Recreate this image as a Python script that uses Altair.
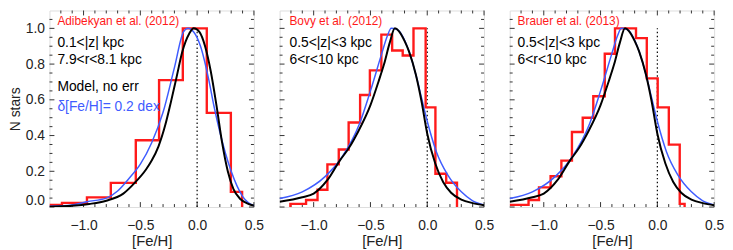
import altair as alt
import pandas as pd

# ---------------- data ----------------
titles = ["Adibekyan et al. (2012)", "Bovy et al. (2012)", "Brauer et al. (2013)"]
labels_z = ["0.1<|z| kpc", "0.5<|z|<3 kpc", "0.5<|z|<3 kpc"]
labels_r = ["7.9<r<8.1 kpc", "6<r<10 kpc", "6<r<10 kpc"]

# histogram (red): left edges of steps and heights (last entry closes the step)
h1_x = [-1.30, -1.19, -0.97, -0.76, -0.54, -0.335, -0.126, 0.085, 0.297, 0.396]
h1_y = [0.012, 0.023, 0.054, 0.135, 0.374, 0.71, 1.0, 0.527, 0.085, 0.0]
h2_x = [-1.205, -1.205, -1.067, -0.966, -0.879, -0.779, -0.692, -0.591, -0.505, -0.404,
        -0.309, -0.216, -0.121, -0.014, 0.072, 0.167, 0.262]
h2_y = [0.0, 0.018, 0.039, 0.097, 0.239, 0.322, 0.473, 0.627, 0.765, 0.965,
        0.876, 0.848, 1.0, 0.558, 0.186, 0.136, 0.0]
h3_x = [-1.30, -1.236, -1.134, -1.042, -0.94, -0.845, -0.752, -0.657, -0.564, -0.463,
        -0.373, -0.188, -0.093, 0.003, 0.101, 0.197, 0.24]
h3_y = [0.012, 0.012, 0.039, 0.11, 0.172, 0.26, 0.42, 0.5, 0.62, 0.858,
        1.0, 0.945, 0.72, 0.558, 0.349, 0.018, 0.0]

# model, no error (black): local sample, and the 0.5<|z|<3, 6<r<10 sample
k1_x = [-1.30, -1.1, -0.95, -0.8, -0.65, -0.55, -0.45, -0.4, -0.34, -0.28, -0.23, -0.18,
        -0.13, -0.07, -0.03, 0.02, 0.07, 0.12, 0.17, 0.22, 0.27, 0.32, 0.38, 0.45, 0.5]
k1_y = [0.002, 0.007, 0.017, 0.035, 0.075, 0.135, 0.21, 0.26, 0.34, 0.46, 0.59, 0.73,
        0.87, 0.97, 1.0, 0.98, 0.9, 0.76, 0.57, 0.36, 0.2, 0.1, 0.045, 0.018, 0.008]
k23_x = [-1.30, -1.1, -1.0, -0.88, -0.77, -0.69, -0.61, -0.5, -0.43, -0.38, -0.33, -0.285,
         -0.25, -0.2, -0.16, -0.1, -0.05, 0.0, 0.07, 0.14, 0.21, 0.3, 0.4, 0.5]
k23_y = [0.03, 0.055, 0.075, 0.15, 0.26, 0.33, 0.42, 0.57, 0.7, 0.8, 0.92, 1.0,
         0.985, 0.93, 0.87, 0.74, 0.59, 0.41, 0.245, 0.14, 0.08, 0.042, 0.022, 0.01]

# model with 0.2 dex error (blue)
b1_x = [-1.30, -1.1, -0.97, -0.8, -0.7, -0.6, -0.5, -0.4, -0.3, -0.2, -0.12, -0.08,
        -0.03, 0.03, 0.1, 0.15, 0.2, 0.25, 0.3, 0.35, 0.4, 0.45, 0.5]
b1_y = [0.005, 0.012, 0.03, 0.05, 0.09, 0.16, 0.24, 0.36, 0.53, 0.78, 0.98, 1.0,
        0.98, 0.9, 0.72, 0.56, 0.42, 0.3, 0.2, 0.12, 0.06, 0.025, 0.008]
b23_x = [-1.30, -1.1, -0.9, -0.75, -0.6, -0.5, -0.4, -0.35, -0.317, -0.27, -0.22, -0.16,
         -0.1, -0.05, 0.0, 0.08, 0.18, 0.3, 0.4, 0.5]
b23_y = [0.048, 0.085, 0.17, 0.28, 0.46, 0.65, 0.86, 0.96, 1.0, 0.995, 0.96, 0.87,
         0.74, 0.61, 0.48, 0.31, 0.18, 0.085, 0.035, 0.012]

x_major = [-1.0, -0.5, 0.0, 0.5]
x_minor = [-1.2, -1.1, -0.9, -0.8, -0.7, -0.6, -0.4, -0.3, -0.2, -0.1, 0.1, 0.2, 0.3, 0.4]
y_major = [0.0, 0.2, 0.4, 0.6, 0.8, 1.0]
y_minor = [0.05, 0.1, 0.15, 0.25, 0.3, 0.35, 0.45, 0.5, 0.55, 0.65, 0.7, 0.75,
           0.85, 0.9, 0.95, 1.05]

hists = [(h1_x, h1_y), (h2_x, h2_y), (h3_x, h3_y)]
blacks = [(k1_x, k1_y), (k23_x, k23_y), (k23_x, k23_y)]
blues = [(b1_x, b1_y), (b23_x, b23_y), (b23_x, b23_y)]

# ---------------- layout ----------------
W, H = 207, 199
FONT = "Liberation Sans"
RED = "#ff1a1a"
BLUE = "#3f5cff"
FRAME = "#333333"

xscale = alt.Scale(domain=[-1.3, 0.5], nice=False, zero=False)
yscale = alt.Scale(domain=[0, 1.1], nice=False, zero=False)


def make_panel(i):
    xaxis = alt.Axis(values=x_major, format=".1f", title="[Fe/H]", grid=False,
                     ticks=False, domain=False, labelFlush=False, labelFont=FONT,
                     labelFontSize=14, labelColor="#222", labelPadding=12,
                     titleFont=FONT, titleFontSize=15, titleFontWeight="normal",
                     titleColor="#222", titlePadding=1)
    if i == 0:
        yaxis = alt.Axis(values=y_major, format=".1f", title="N stars", grid=False,
                         ticks=False, domain=False, labelFlush=True, labelFont=FONT,
                         labelFontSize=14, labelColor="#222", labelPadding=5,
                         titleFont=FONT, titleFontSize=14, titleFontWeight="normal",
                         titleColor="#222", titlePadding=3)
    else:
        yaxis = None

    def X(field):
        return alt.X(field + ":Q", scale=xscale, axis=xaxis)

    def Y(field):
        return alt.Y(field + ":Q", scale=yscale, axis=yaxis)

    hx, hy = hists[i]
    kx, ky = blacks[i]
    bx, by = blues[i]
    dh = pd.DataFrame({"x": hx, "y": hy})
    dk = pd.DataFrame({"x": kx, "y": ky})
    db = pd.DataFrame({"x": bx, "y": by})

    hist = alt.Chart(dh).mark_line(interpolate="step-after", color=RED,
                                   strokeWidth=2.4, clip=True).encode(x=X("x"), y=Y("y"))
    blue = alt.Chart(db).mark_line(interpolate="monotone", color=BLUE,
                                   strokeWidth=1.5, clip=True).encode(x=X("x"), y=Y("y"))
    black = alt.Chart(dk).mark_line(interpolate="monotone", color="black",
                                    strokeWidth=2.0, clip=True).encode(x=X("x"), y=Y("y"))
    dotted = alt.Chart(pd.DataFrame({"x": [0.0], "y": [0.0], "y2": [1.0]})).mark_rule(
        color="black", strokeWidth=1.2, strokeDash=[1.5, 2.5]).encode(
        x=X("x"), y=Y("y"), y2="y2:Q")

    dxM = pd.DataFrame({"x": x_major})
    dxm = pd.DataFrame({"x": x_minor})
    dyM = pd.DataFrame({"y": y_major})
    dym = pd.DataFrame({"y": y_minor})
    tk = dict(color=FRAME, strokeWidth=1)
    ticks = [
        alt.Chart(dxM).mark_rule(**tk).encode(x=X("x"), y=alt.value(H), y2=alt.value(H - 5)),
        alt.Chart(dxm).mark_rule(**tk).encode(x=X("x"), y=alt.value(H), y2=alt.value(H - 3)),
        alt.Chart(dxM).mark_rule(**tk).encode(x=X("x"), y=alt.value(0), y2=alt.value(5)),
        alt.Chart(dxm).mark_rule(**tk).encode(x=X("x"), y=alt.value(0), y2=alt.value(3)),
        alt.Chart(dyM).mark_rule(**tk).encode(y=Y("y"), x=alt.value(0), x2=alt.value(5)),
        alt.Chart(dym).mark_rule(**tk).encode(y=Y("y"), x=alt.value(0), x2=alt.value(3)),
        alt.Chart(dyM).mark_rule(**tk).encode(y=Y("y"), x=alt.value(W), x2=alt.value(W - 5)),
        alt.Chart(dym).mark_rule(**tk).encode(y=Y("y"), x=alt.value(W), x2=alt.value(W - 3)),
    ]

    tx = 8 if i != 1 else 10
    texts = []
    rows = [(titles[i], RED, 12, 11), (labels_z[i], "black", 14, 33), (labels_r[i], "black", 14, 50)]
    if i == 0:
        rows += [("Model, no err", "black", 14, 78), ("\u03b4[Fe/H]= 0.2 dex", BLUE, 14, 97.5)]
    for t, c, fs, yy in rows:
        texts.append(alt.Chart(pd.DataFrame({"t": [t]})).mark_text(
            align="left", baseline="middle", font=FONT, fontSize=fs, color=c).encode(
            text="t:N", x=alt.value(tx), y=alt.value(yy)))

    return alt.layer(*ticks, dotted, hist, blue, black, *texts).properties(width=W, height=H)


chart = alt.hconcat(make_panel(0), make_panel(1), make_panel(2), spacing=26,
                    bounds="flush").properties(
    padding={"left": 0, "top": 0, "right": 0, "bottom": 0}
).configure_view(stroke=FRAME, strokeWidth=1.3).configure(background="white")

chart.save("out.html", embed_options={"renderer": "svg", "actions": False})
